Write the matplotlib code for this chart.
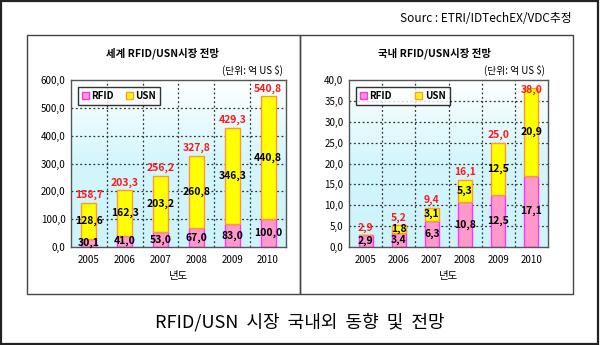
import matplotlib.pyplot as plt
import numpy as np
from matplotlib.patches import Rectangle
from matplotlib.colors import LinearSegmentedColormap

plt.rcParams['font.family'] = ['Noto Sans CJK KR', 'DejaVu Sans']

years = ['2005', '2006', '2007', '2008', '2009', '2010']

# World market (100M US$)
world_rfid = [30.1, 41.0, 53.0, 67.0, 83.0, 100.0]
world_usn = [128.6, 162.3, 203.2, 260.8, 346.3, 440.8]
world_total = [158.7, 203.3, 256.2, 327.8, 429.3, 540.8]

# Domestic market (100M US$)
kor_rfid = [2.9, 3.4, 6.3, 10.8, 12.5, 17.1]
kor_usn = [0.0, 1.8, 3.1, 5.3, 12.5, 20.9]
kor_total = [2.9, 5.2, 9.4, 16.1, 25.0, 38.0]

RFID_FACE, RFID_EDGE = '#ff99cc', '#ff33ff'
USN_FACE, USN_EDGE = '#ffff00', '#ff9933'

bg_cmap = LinearSegmentedColormap.from_list('bg', ['#ffffff', '#d2f6fc', '#cdf3fb'])


def fmt(v):
    return f'{v:.1f}'.replace('.', ',')


def draw_chart(ax, rfid, usn, total, ymax, ystep, colspace):
    x = np.arange(len(years))
    ax.set_xlim(-0.5, len(years) - 0.5)
    ax.set_ylim(0, ymax)

    # light cyan fade towards the bottom of the plot area
    grad = np.linspace(0, 1, 256).reshape(-1, 1)
    ax.imshow(grad, aspect='auto', cmap=bg_cmap, origin='upper',
              extent=[-0.5, len(years) - 0.5, 0, ymax], zorder=0)

    ticks = np.arange(0, ymax + ystep / 2, ystep)
    ax.set_yticks(ticks)
    ax.set_yticklabels([fmt(v) for v in ticks], fontsize=7)
    ax.set_xticks(x)
    ax.set_xticklabels(years, fontsize=7)
    ax.tick_params(axis='y', length=0, pad=4)
    ax.tick_params(axis='x', length=0, pad=6)

    for yv in np.arange(ystep, ymax, ystep):
        ax.axhline(yv, color='#333333', ls=(0, (1.5, 2)), lw=0.9, zorder=1)
    for xv in np.arange(0.5, len(years) - 0.5, 1):
        ax.axvline(xv, color='#333333', ls=(0, (1.5, 2)), lw=0.9, zorder=1)

    w = 0.42
    ax.bar(x, rfid, w, color=RFID_FACE, edgecolor=RFID_EDGE, lw=1,
           zorder=2, label='RFID')
    ax.bar(x, usn, w, bottom=rfid, color=USN_FACE, edgecolor=USN_EDGE, lw=1,
           zorder=2, label='USN')

    for i in range(len(years)):
        ax.text(x[i], rfid[i] / 2, fmt(rfid[i]), ha='center', va='center',
                fontsize=7.5, fontweight='bold', color='black', zorder=4)
        if usn[i] > 0:
            ax.text(x[i], rfid[i] + usn[i] / 2, fmt(usn[i]), ha='center',
                    va='center', fontsize=7.5, fontweight='bold',
                    color='black', zorder=4)
        ty = total[i] + 0.045 * ymax
        if ty > 0.97 * ymax:
            ty = total[i] - 0.01 * ymax
        ax.text(x[i], ty, fmt(total[i]), ha='center', va='center',
                fontsize=7.5, fontweight='bold', color='#ff1a1a', zorder=4)

    for s in ax.spines.values():
        s.set_color('#555555')
        s.set_linewidth(1)

    ax.set_xlabel('년도', fontsize=7.5, labelpad=4)
    leg = ax.legend(loc='upper left', ncol=2, fontsize=7, frameon=True,
                    fancybox=False, handlelength=0.7, handleheight=0.7,
                    handletextpad=0.3, columnspacing=colspace,
                    borderpad=0.4, bbox_to_anchor=(0.01, 0.985))
    leg.get_frame().set_edgecolor('black')
    leg.get_frame().set_linewidth(1)
    for t in leg.get_texts():
        t.set_fontweight('bold')


fig = plt.figure(figsize=(6, 3.45), dpi=100)
W, H = 600, 345


def fx(px):
    return px / W


def fy(py):
    return 1 - py / H


# outer frame and the two chart panels
fig.patches.append(Rectangle((0.002, 0.003), 0.995, 0.994, transform=fig.transFigure,
                             fill=False, ec='#222222', lw=1.6))
fig.patches.append(Rectangle((fx(27), fy(294)), fx(273), 259 / H,
                             transform=fig.transFigure, fill=False,
                             ec='#444444', lw=1))
fig.patches.append(Rectangle((fx(300), fy(294)), fx(273), 259 / H,
                             transform=fig.transFigure, fill=False,
                             ec='#444444', lw=1))

ax1 = fig.add_axes([fx(71), fy(247), fx(215), 167 / H])
ax2 = fig.add_axes([fx(349), fy(247), fx(199), 167 / H])

draw_chart(ax1, world_rfid, world_usn, world_total, 600, 100, 1.2)
draw_chart(ax2, kor_rfid, kor_usn, kor_total, 40, 5, 2.4)

fig.text(fx(162), fy(53), '세계 RFID/USN시장 전망', ha='center', va='center',
         fontsize=7.5, fontweight='bold')
fig.text(fx(283), fy(70), '(단위: 억 US $)', ha='right', va='center', fontsize=7)
fig.text(fx(435), fy(53), '국내 RFID/USN시장 전망', ha='center', va='center',
         fontsize=7.5, fontweight='bold')
fig.text(fx(545), fy(70), '(단위: 억 US $)', ha='right', va='center', fontsize=7)

fig.text(fx(572), fy(19), 'Sourc : ETRI/IDTechEX/VDC추정', ha='right',
         va='center', fontsize=8.5)
fig.text(0.5, fy(322), 'RFID/USN  시장  국내외  동향  및  전망', ha='center',
         va='center', fontsize=13)

fig.savefig('out.png', dpi=100)
